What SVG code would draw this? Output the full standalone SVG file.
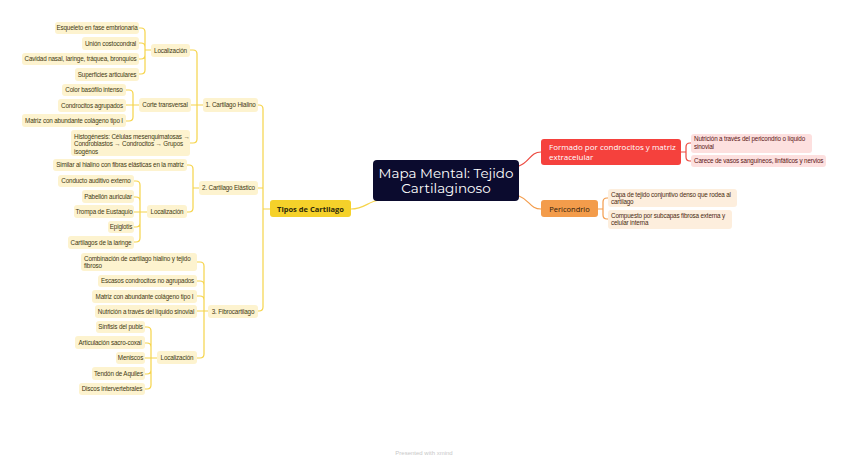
<svg xmlns="http://www.w3.org/2000/svg" width="848" height="464" viewBox="0 0 848 464">
<style>
.t{font-family:"Liberation Sans",Arial,sans-serif;font-size:6.3px;letter-spacing:-0.15px}
.y rect{fill:#fdf3cf}
.y text{fill:#3f3912}
.c{fill:none;stroke-width:1.2;stroke-linecap:round}
.cy{stroke:#f6d44a}
.cr{stroke:#ec4a40}
.co{stroke:#f39c4b}
.m{text-anchor:middle}
</style>
<rect width="848" height="464" fill="#fff"/>
<g id="connectors">
<path class="c cy" d="M351,209 C365,209 368,201 380,200"/>
<path class="c cr" d="M519,166 C530,162 530,152 541,152"/>
<path class="c co" d="M519,196 C530,200 530,209 541,209"/>
<path class="c cy" d="M270,209 H263 V109 Q263,105 259,105 H258 M263,209 V307 Q263,311 259,311 H258 M263,188 H258"/>
<path class="c cy" d="M203,105 H197 V54 Q197,50 193,50 H190 M197,105 V139 Q197,143 193,143 H190 M197,105 H191"/>
<path class="c cy" d="M151,50 H145 V32 Q145,28 141,28 H139 M145,50 V47 Q145,43 141,43 H139 M145,50 V55 Q145,59 141,59 H139 M145,50 V70 Q145,74 141,74 H139"/>
<path class="c cy" d="M139,105 H133 V94 Q133,90 129,90 H126 M133,105 V117 Q133,121 129,121 H126 M133,105 H126"/>
<path class="c cy" d="M199,188 H193 V169 Q193,165 189,165 H187 M193,188 V208 Q193,212 189,212 H187"/>
<path class="c cy" d="M147,212 H140 V185 Q140,181 136,181 H134 M140,212 V201 Q140,197 136,197 H134 M140,212 H134 M140,212 V223 Q140,227 136,227 H134 M140,212 V238 Q140,242 136,242 H134"/>
<path class="c cy" d="M208,311 H204 V266 Q204,262 200,262 H197 M204,311 V285 Q204,281 200,281 H197 M204,311 V300 Q204,296 200,296 H197 M204,311 H197 M204,311 V354 Q204,358 200,358 H197"/>
<path class="c cy" d="M157,358 H151 V331 Q151,327 147,327 H145 M151,358 V347 Q151,343 147,343 H145 M151,358 H145 M151,358 V370 Q151,374 147,374 H145 M151,358 V385 Q151,389 147,389 H145"/>
<path class="c cr" d="M681,152 H686 V147 Q686,143 690,143 H691 M686,152 V157 Q686,161 690,161 H691"/>
<path class="c co" d="M598,209 H603 V202 Q603,198 607,198 H608 M603,209 V215 Q603,219 607,219 H608"/>
</g>
<g id="center"><rect x="373" y="160" width="146" height="41" rx="4" fill="#0b0b2e"/>
<text x="446" y="178" class="m" font-family="Montserrat,'Open Sans',sans-serif" font-size="13.5" fill="#fff">Mapa Mental: Tejido</text>
<text x="446" y="193" class="m" font-family="Montserrat,'Open Sans',sans-serif" font-size="13.5" fill="#fff">Cartilaginoso</text></g>
<g id="tipos"><rect x="270" y="200" width="81" height="17" rx="3" fill="#f5d12a"/>
<text x="310.5" y="211.5" class="m" font-family="'Open Sans',sans-serif" font-size="7.5" font-weight="bold" fill="#2e2a0a">Tipos de Cartilago</text></g>
<g id="formado"><rect x="541" y="139" width="140" height="26" rx="3" fill="#f5413d"/>
<text x="549" y="150" font-family="'Open Sans',sans-serif" font-size="8" fill="#fff">Formado por condrocitos y matriz</text>
<text x="549" y="160" font-family="'Open Sans',sans-serif" font-size="8" fill="#fff">extracelular</text></g>
<g id="pericondrio"><rect x="541" y="200" width="57" height="17" rx="3" fill="#f39c4b"/>
<text x="569.5" y="211.5" class="m" font-family="'Open Sans',sans-serif" font-size="7.5" fill="#2e1a0a">Pericondrio</text></g>
<g id="nutricion-per"><rect x="691" y="134" width="121" height="19" rx="3" fill="#fde0df"/>
<text class="t" x="694" y="141" fill="#5a1414">Nutrición a través del pericondrio o líquido</text>
<text class="t" x="694" y="148.5" fill="#5a1414">sinovial</text></g>
<g id="carece"><rect x="691" y="155" width="135" height="12" rx="3" fill="#fde0df"/>
<text class="t" x="694" y="163" fill="#5a1414">Carece de vasos sanguíneos, linfáticos y nervios</text></g>
<g id="capa"><rect x="608" y="189" width="129" height="18" rx="3" fill="#fdeedd"/>
<text class="t" x="611" y="196.5" fill="#4a2a10">Capa de tejido conjuntivo denso que rodea al</text>
<text class="t" x="611" y="204" fill="#4a2a10">cartilago</text></g>
<g id="compuesto"><rect x="608" y="210" width="124" height="19" rx="3" fill="#fdeedd"/>
<text class="t" x="611" y="217.5" fill="#4a2a10">Compuesto por subcapas fibrosa externa y</text>
<text class="t" x="611" y="225" fill="#4a2a10">celular interna</text></g>
<g id="hialino" class="y"><rect x="203" y="98" width="55" height="14" rx="3"/><text class="t m" x="230.5" y="107">1. Cartilago Hialino</text></g>
<g id="elastico" class="y"><rect x="199" y="181" width="59" height="14" rx="3"/><text class="t m" x="228.5" y="190">2. Cartilago Elástico</text></g>
<g id="fibro" class="y"><rect x="208" y="305" width="50" height="13" rx="3"/><text class="t m" x="233" y="313.5">3. Fibrocartilago</text></g>
<g id="loc-h" class="y"><rect x="151" y="44" width="39" height="13" rx="3"/><text class="t m" x="170.5" y="52.5">Localización</text></g>
<g id="corte" class="y"><rect x="139" y="98" width="52" height="14" rx="3"/><text class="t m" x="165" y="107">Corte transversal</text></g>
<g id="histo" class="y"><rect x="71" y="130" width="119" height="26" rx="3"/>
<text class="t" x="74" y="138.5">Histogénesis: Células mesenquimatosas →</text>
<text class="t" x="74" y="146">Condroblastos → Condrocitos → Grupos</text>
<text class="t" x="74" y="153.5">isogénos</text></g>
<g id="esqueleto" class="y"><rect x="55" y="22" width="84" height="12" rx="3"/><text class="t m" x="97" y="30">Esqueleto en fase embrionaria</text></g>
<g id="union" class="y"><rect x="82" y="37" width="57" height="13" rx="3"/><text class="t m" x="110.5" y="45.5">Unión costocondral</text></g>
<g id="cavidad" class="y"><rect x="22" y="53" width="117" height="12" rx="3"/><text class="t m" x="80.5" y="61">Cavidad nasal, laringe, tráquea, bronquios</text></g>
<g id="superficies" class="y"><rect x="75" y="68" width="64" height="13" rx="3"/><text class="t m" x="107" y="76.5">Superficies articulares</text></g>
<g id="color" class="y"><rect x="62" y="84" width="64" height="12" rx="3"/><text class="t m" x="94" y="92">Color basófilo intenso</text></g>
<g id="condrocitos" class="y"><rect x="58" y="99" width="68" height="13" rx="3"/><text class="t m" x="92" y="107.5">Condrocitos agrupados</text></g>
<g id="matriz-h" class="y"><rect x="22" y="114" width="104" height="13" rx="3"/><text class="t m" x="74" y="122.5">Matriz con abundante colágeno tipo I</text></g>
<g id="similar" class="y"><rect x="53" y="159" width="134" height="12" rx="3"/><text class="t m" x="120" y="167">Similar al hialino con fibras elásticas en la matriz</text></g>
<g id="loc-e" class="y"><rect x="147" y="205" width="40" height="13" rx="3"/><text class="t m" x="167" y="213.5">Localización</text></g>
<g id="conducto" class="y"><rect x="58" y="175" width="76" height="12" rx="3"/><text class="t m" x="96" y="183">Conducto auditivo externo</text></g>
<g id="pabellon" class="y"><rect x="82" y="190" width="52" height="13" rx="3"/><text class="t m" x="108" y="198.5">Pabellón auricular</text></g>
<g id="trompa" class="y"><rect x="74" y="205" width="60" height="13" rx="3"/><text class="t m" x="104" y="213.5">Trompa de Eustaquio</text></g>
<g id="epiglotis" class="y"><rect x="108" y="221" width="26" height="12" rx="3"/><text class="t m" x="121" y="229">Epiglotis</text></g>
<g id="laringe" class="y"><rect x="68" y="236" width="66" height="13" rx="3"/><text class="t m" x="101" y="244.5">Cartilagos de la laringe</text></g>
<g id="combinacion" class="y"><rect x="81" y="253" width="116" height="18" rx="3"/>
<text class="t" x="84" y="260.5">Combinación de cartilago hialino y tejido</text>
<text class="t" x="84" y="268">fibroso</text></g>
<g id="escasos" class="y"><rect x="98" y="275" width="99" height="12" rx="3"/><text class="t m" x="147.5" y="283">Escasos condrocitos no agrupados</text></g>
<g id="matriz-f" class="y"><rect x="92" y="290" width="105" height="13" rx="3"/><text class="t m" x="144.5" y="298.5">Matriz con abundante colágeno tipo I</text></g>
<g id="nutricion-f" class="y"><rect x="95" y="305" width="102" height="13" rx="3"/><text class="t m" x="146" y="313.5">Nutrición a través del líquido sinovial</text></g>
<g id="loc-f" class="y"><rect x="157" y="351" width="40" height="13" rx="3"/><text class="t m" x="177" y="359.5">Localización</text></g>
<g id="sinfisis" class="y"><rect x="96" y="321" width="49" height="12" rx="3"/><text class="t m" x="120.5" y="329">Sínfisis del pubis</text></g>
<g id="sacro" class="y"><rect x="75" y="336" width="70" height="13" rx="3"/><text class="t m" x="110" y="344.5">Articulación sacro-coxal</text></g>
<g id="meniscos" class="y"><rect x="116" y="352" width="29" height="12" rx="3"/><text class="t m" x="130.5" y="360">Meniscos</text></g>
<g id="tendon" class="y"><rect x="92" y="367" width="53" height="13" rx="3"/><text class="t m" x="118.5" y="375.5">Tendón de Aquiles</text></g>
<g id="discos" class="y"><rect x="79" y="383" width="66" height="12" rx="3"/><text class="t m" x="112" y="391">Discos intervertebrales</text></g>
<text x="424" y="455" text-anchor="middle" font-family="'Liberation Sans',sans-serif" font-size="6" fill="#c8c8c8">Presented with xmind</text>
</svg>
